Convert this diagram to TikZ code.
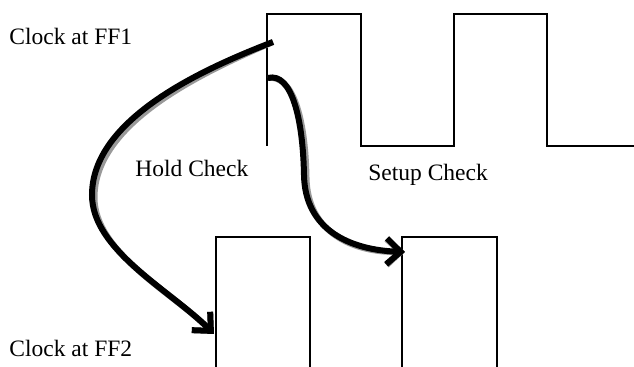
\documentclass[tikz,border=0pt]{standalone}
\usepackage{fontspec}
\setmainfont{Liberation Serif}
\usetikzlibrary{arrows.meta}
\begin{document}
\begin{tikzpicture}[x=0.5pt,y=-0.5pt,
  wave/.style={line width=0.75pt,line join=miter},
  lbl/.style={inner sep=0pt,anchor=base west,font=\fontsize{11.75pt}{14pt}\selectfont},
  chk/.style={line width=3pt,-{Straight Barb[length=7pt,width=13pt,line width=3pt]}},
  shadow/.style={chk,draw=black!40}]
\useasboundingbox (0,0) rectangle (634,367);
% clock at FF1
\draw[wave] (267,146) -- (267,14) -- (361,14) -- (361,146) -- (454,146) -- (454,14) -- (547,14) -- (547,146) -- (634,146);
% clock at FF2
\draw[wave] (216,367) -- (216,237) -- (310,237) -- (310,367);
\draw[wave] (402,367) -- (402,237) -- (497,237) -- (497,367);
% labels
\node[lbl] (ff1) at (9,45) {Clock at FF1};
\node[lbl] (ff2) at (9,357) {Clock at FF2};
\node[lbl] (hold) at (135,177) {Hold Check};
\node[lbl] (setup) at (368,181) {Setup Check};
% arrow end points
\coordinate (hs) at (273,42);
\coordinate (he) at (214,334);
\coordinate (ss) at (268,78);
\coordinate (se) at (405,252);
% shadows
\begin{scope}[shift={(2.5,2.5)}]
\draw[shadow] (hs) .. controls (200,70) and (92,120) .. (92,195) .. controls (92,250) and (170,290) .. (he);
\draw[shadow] (ss) .. controls (292,72) and (303,120) .. (304,175) .. controls (305,230) and (350,250) .. (se);
\end{scope}
% arrows
\draw[chk] (hs) .. controls (200,70) and (92,120) .. (92,195) .. controls (92,250) and (170,290) .. (he);
\draw[chk] (ss) .. controls (292,72) and (303,120) .. (304,175) .. controls (305,230) and (350,250) .. (se);
\end{tikzpicture}
\end{document}
